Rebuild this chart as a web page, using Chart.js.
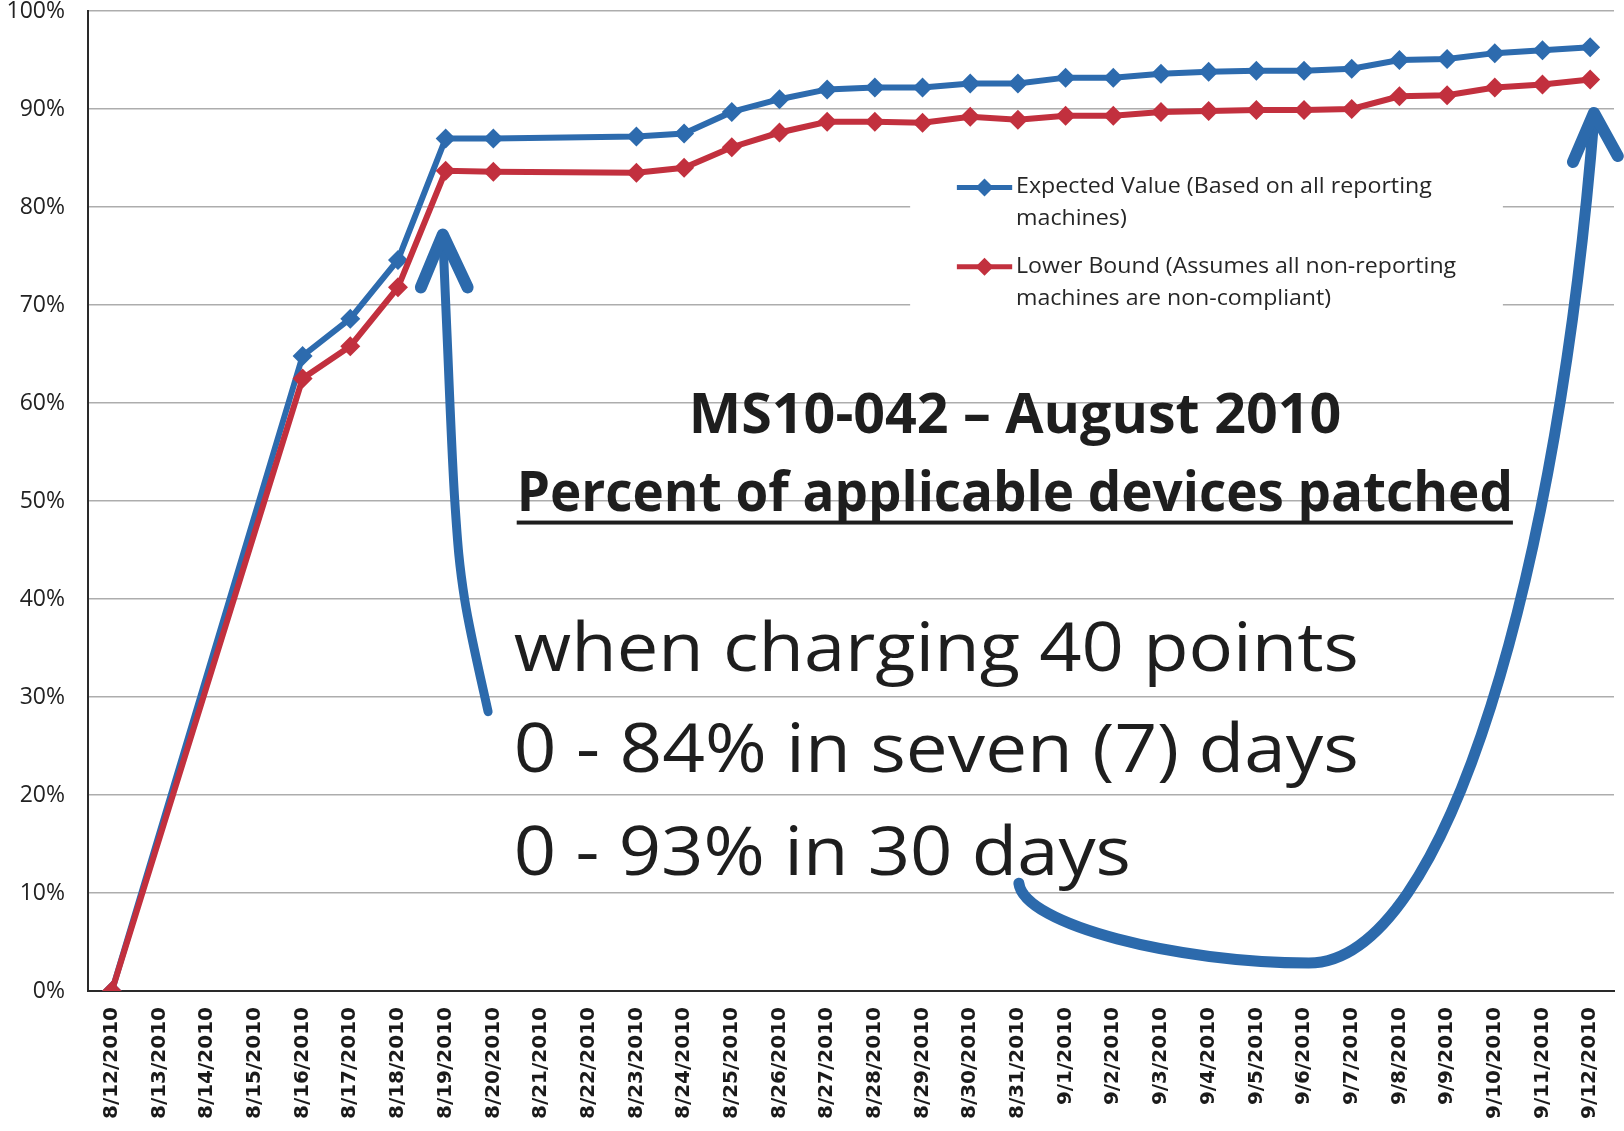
<!DOCTYPE html>
<html><head><meta charset="utf-8">
<script src="https://cdn.jsdelivr.net/npm/chart.js@4.4.0/dist/chart.umd.min.js"></script>
<style>html,body{margin:0;padding:0;background:#fff}canvas{display:block}</style>
</head><body>
<canvas id="c" width="1624" height="1131"></canvas>
<script>
const categories = ['8/12/2010','8/13/2010','8/14/2010','8/15/2010','8/16/2010','8/17/2010','8/18/2010','8/19/2010','8/20/2010','8/21/2010','8/22/2010','8/23/2010','8/24/2010','8/25/2010','8/26/2010','8/27/2010','8/28/2010','8/29/2010','8/30/2010','8/31/2010','9/1/2010','9/2/2010','9/3/2010','9/4/2010','9/5/2010','9/6/2010','9/7/2010','9/8/2010','9/9/2010','9/10/2010','9/11/2010','9/12/2010'];
const expectedValue = [0,null,null,null,64.8,68.6,74.6,87.0,87.0,null,null,87.2,87.5,89.7,91.0,92.0,92.2,92.2,92.6,92.6,93.2,93.2,93.6,93.8,93.9,93.9,94.1,95.0,95.1,95.7,96.0,96.3];
const lowerBound    = [0,null,null,null,62.5,65.8,71.8,83.7,83.6,null,null,83.5,84.0,86.1,87.6,88.7,88.7,88.6,89.2,88.9,89.3,89.3,89.7,89.8,89.9,89.9,90.0,91.3,91.4,92.2,92.5,93.0];
const yTickValues = [0,10,20,30,40,50,60,70,80,90,100];
const seriesNames = ['Expected Value (Based on all reporting machines)','Lower Bound (Assumes all non-reporting machines are non-compliant)'];
const legendLines = [['Expected Value (Based on all reporting','machines)'],['Lower Bound (Assumes all non-reporting','machines are non-compliant)']];
const titleLines = ['MS10-042 \u2013 August 2010','Percent of applicable devices patched'];
const noteLines = ['when charging 40 points','0 - 84% in seven (7) days','0 - 93% in 30 days'];

const BLUE = '#2D6BAE', RED = '#C2303E', ARROW = '#2C6AAC';

function P(chart, i, v) {
  return { x: chart.scales.x.getPixelForValue(i), y: chart.scales.y.getPixelForValue(v) };
}
function fitText(ctx, text, x, y, targetW, forcedScale) {
  const w = ctx.measureText(text).width;
  const s = forcedScale || (targetW / w);
  ctx.save(); ctx.translate(x, y); ctx.scale(s, 1); ctx.fillText(text, 0, 0); ctx.restore();
  return s;
}
function smoothPath(ctx, pts) {
  ctx.moveTo(pts[0].x, pts[0].y);
  for (let i = 0; i < pts.length - 1; i++) {
    const p0 = pts[i - 1] || pts[i], p1 = pts[i], p2 = pts[i + 1], p3 = pts[i + 2] || p2;
    ctx.bezierCurveTo(p1.x + (p2.x - p0.x) / 6, p1.y + (p2.y - p0.y) / 6,
                      p2.x - (p3.x - p1.x) / 6, p2.y - (p3.y - p1.y) / 6, p2.x, p2.y);
  }
}
function diamond(ctx, x, y, r, color) {
  ctx.beginPath(); ctx.moveTo(x - r, y); ctx.lineTo(x, y - r); ctx.lineTo(x + r, y); ctx.lineTo(x, y + r); ctx.closePath();
  ctx.fillStyle = color; ctx.fill();
}

const annotations = {
  id: 'annotations',
  beforeDatasetsDraw(chart) {
    const ctx = chart.ctx;
    const a = P(chart, 16.74, 86.8), b = P(chart, 29.17, 67.4);
    ctx.save();
    ctx.fillStyle = '#fff';
    ctx.fillRect(a.x, a.y, b.x - a.x, b.y - a.y);
    const entries = [
      { color: BLUE, y1: 82.0, y2: 78.75, right: 27.68, lines: legendLines[0] },
      { color: RED, y1: 73.9, y2: 70.6, right: 28.19, lines: legendLines[1] }
    ];
    ctx.font = '21px "Open Sans"';
    ctx.textBaseline = 'middle';
    for (const e of entries) {
      const l0 = P(chart, 17.72, e.y1), l1 = P(chart, 18.88, e.y1);
      ctx.strokeStyle = e.color; ctx.lineWidth = 5;
      ctx.beginPath(); ctx.moveTo(l0.x, l0.y); ctx.lineTo(l1.x, l1.y); ctx.stroke();
      diamond(ctx, (l0.x + l1.x) / 2, l0.y, 9, e.color);
      ctx.fillStyle = '#262626';
      const t0 = P(chart, 18.96, e.y1), tr = P(chart, e.right, e.y1), t2 = P(chart, 18.96, e.y2);
      const s = fitText(ctx, e.lines[0], t0.x, t0.y, tr.x - t0.x);
      fitText(ctx, e.lines[1], t2.x, t2.y, 0, s);
    }
    ctx.restore();
  },
  afterDraw(chart) {
    const ctx = chart.ctx;
    ctx.save();
    ctx.fillStyle = '#1e1e1e';
    ctx.textBaseline = 'alphabetic';
    ctx.font = 'bold 56px "Open Sans"';
    let l = P(chart, 12.10, 56.9), r = P(chart, 25.78, 56.9);
    fitText(ctx, titleLines[0], l.x, l.y, r.x - l.x);
    l = P(chart, 8.49, 49.0); r = P(chart, 29.38, 49.0);
    fitText(ctx, titleLines[1], l.x, l.y, r.x - l.x);
    const u = P(chart, 8.49, 47.8);
    ctx.fillRect(u.x, u.y - 2, r.x - u.x, 4);
    ctx.font = '68px "Open Sans"';
    const notes = [[32.7, 26.15], [22.3, 26.15], [11.8, 21.37]];
    notes.forEach((n, i) => {
      const nl = P(chart, 8.43, n[0]), nr = P(chart, n[1], n[0]);
      fitText(ctx, noteLines[i], nl.x, nl.y, nr.x - nl.x);
    });
    ctx.strokeStyle = ARROW; ctx.lineCap = 'round'; ctx.lineJoin = 'round';
    const a1 = [[7.89, 28.5], [7.4, 39.9], [7.19, 50.1], [7.02, 68.0], [6.94, 77.0]].map(p => P(chart, p[0], p[1]));
    ctx.lineWidth = 9;
    ctx.beginPath(); smoothPath(ctx, a1); ctx.stroke();
    const h1 = [[6.48, 71.8], [6.94, 77.2], [7.46, 71.8]].map(p => P(chart, p[0], p[1]));
    ctx.lineWidth = 12;
    ctx.beginPath(); ctx.moveTo(h1[0].x, h1[0].y); ctx.lineTo(h1[1].x, h1[1].y); ctx.lineTo(h1[2].x, h1[2].y); ctx.stroke();
    const q = [[19.02, 11.0], [19.13, 6.7], [22.38, 2.86], [25.1, 2.86], [28.04, 2.86], [30.35, 44.0], [31.08, 89.2]].map(p => P(chart, p[0], p[1]));
    ctx.lineWidth = 11;
    ctx.beginPath();
    ctx.moveTo(q[0].x, q[0].y);
    ctx.bezierCurveTo(q[1].x, q[1].y, q[2].x, q[2].y, q[3].x, q[3].y);
    ctx.bezierCurveTo(q[4].x, q[4].y, q[5].x, q[5].y, q[6].x, q[6].y);
    ctx.stroke();
    const h2 = [[30.64, 84.6], [31.08, 89.6], [31.58, 85.2]].map(p => P(chart, p[0], p[1]));
    ctx.lineWidth = 12;
    ctx.beginPath(); ctx.moveTo(h2[0].x, h2[0].y); ctx.lineTo(h2[1].x, h2[1].y); ctx.lineTo(h2[2].x, h2[2].y); ctx.stroke();
    ctx.restore();
  }
};

new Chart(document.getElementById('c'), {
  type: 'line',
  data: {
    labels: categories,
    datasets: [
      { label: seriesNames[0], data: expectedValue, borderColor: BLUE, backgroundColor: BLUE,
        borderWidth: 6, pointStyle: 'rectRot', pointRadius: 10, pointBorderWidth: 0,
        pointBackgroundColor: BLUE, spanGaps: true, tension: 0, order: 1 },
      { label: seriesNames[1], data: lowerBound, borderColor: RED, backgroundColor: RED,
        borderWidth: 6, pointStyle: 'rectRot', pointRadius: 10, pointBorderWidth: 0,
        pointBackgroundColor: RED, spanGaps: true, tension: 0, order: 0 }
    ]
  },
  options: {
    responsive: false,
    animation: false,
    layout: { padding: { top: 11, right: 8, left: 0, bottom: 0 } },
    plugins: { legend: { display: false }, tooltip: { enabled: false } },
    scales: {
      x: {
        offset: true,
        grid: { display: false, drawTicks: false, offset: true },
        border: { display: true, color: '#2a2a2a', width: 2 },
        ticks: { autoSkip: false, minRotation: 90, maxRotation: 90, padding: 16, color: '#1a1a1a',
                 font: { family: '"DejaVu Sans"', weight: 'bold', size: 20 } },
        afterFit(s) { s.height = 140; s.paddingLeft = 0; s.paddingRight = 0; }
      },
      y: {
        min: 0, max: 100,
        afterBuildTicks(s) { s.ticks = yTickValues.map(v => ({ value: v })); },
        grid: { color: '#ADADAD', lineWidth: 1.5, drawTicks: false },
        border: { display: true, color: '#2a2a2a', width: 2 },
        ticks: { padding: 23, color: '#222', callback: v => v + '%',
                 font: { family: '"Open Sans"', size: 23, lineHeight: 1.0 } },
        afterFit(s) { s.width = 88; s.paddingTop = 11; s.paddingBottom = 11; }
      }
    }
  },
  plugins: [annotations]
});
</script>
</body></html>
